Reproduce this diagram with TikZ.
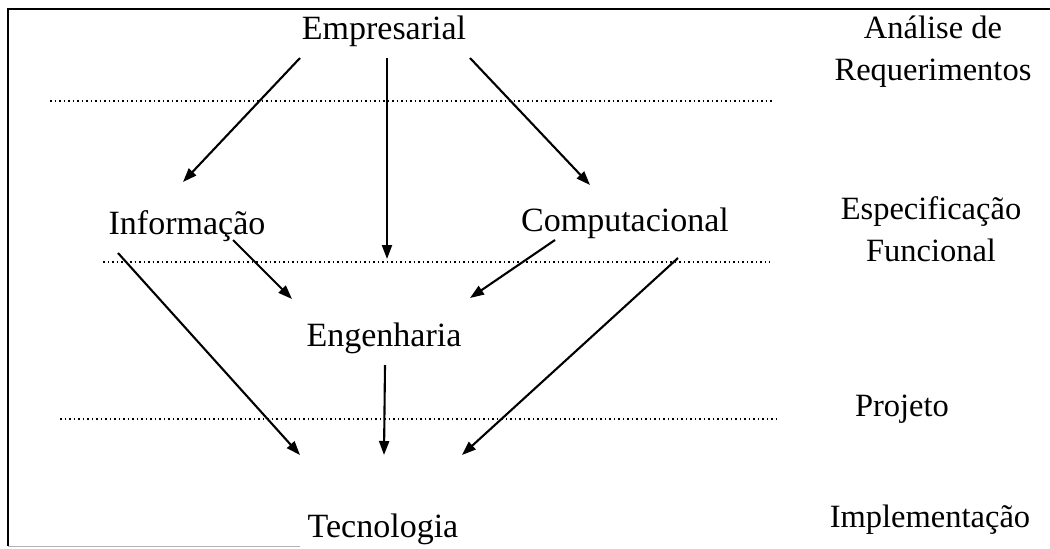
\documentclass[tikz,border=0pt]{standalone}
\usepackage{fontspec}
\setmainfont{Liberation Serif}
\usetikzlibrary{arrows.meta,calc}
\begin{document}
\begin{tikzpicture}[x=1pt,y=-1pt,
  lbl/.style={inner sep=0pt,font=\fontsize{34}{40}\selectfont},
  side/.style={inner sep=0pt,align=center,font=\fontsize{32.5}{42}\selectfont},
  arr/.style={line width=2.1pt,-{Triangle[length=14pt,width=10pt]}},
  sep/.style={line width=1.5pt,dash pattern=on 1.5pt off 3pt},
  frame/.style={line width=2.4pt}]
\useasboundingbox (0,0) rectangle (1050,549);
% frame
\coordinate (tl) at (8,9);
\coordinate (tr) at (1050,9);
\coordinate (bl) at (8,546);
\coordinate (bm) at (300,546);
\draw[frame] (tr) -- (tl) -- (bl);
\draw[gray!60,line width=1pt] (bl) -- (bm);
% nodes
\node[lbl] (emp) at (384,31) {Empresarial};
\node[lbl] (inf) at (187,226) {Informação};
\node[lbl] (comp) at (625,223) {Computacional};
\node[lbl] (eng) at (384,338) {Engenharia};
\node[lbl] (tec) at (383,529) {Tecnologia};
\node[side] (s1) at (933,52) {Análise de\\Requerimentos};
\node[side] (s2) at (931,229) {Especificação\\Funcional};
\node[side] (s3) at (902,409) {Projeto};
\node[side] (s4) at (930,520) {Implementação};
% separators
\coordinate (d1a) at (50,101);  \coordinate (d1b) at (773,101);
\coordinate (d2a) at (103,262); \coordinate (d2b) at (770,262);
\coordinate (d3a) at (60,419);  \coordinate (d3b) at (780,419);
\draw[sep] (d1a) -- (d1b);
\draw[sep] (d2a) -- (d2b);
\draw[sep] (d3a) -- (d3b);
% arrows
\draw[arr] ($(emp)+(-84,27)$) -- ($(inf)+(-4,-44)$);
\draw[arr] ($(emp)+(3,27)$) -- ($(eng)+(3,-79)$);
\draw[arr] ($(emp)+(86,27)$) -- ($(comp)+(-35,-38)$);
\draw[arr] ($(inf)+(46,14)$) -- ($(eng)+(-92,-39)$);
\draw[arr] ($(comp)+(-70,17)$) -- ($(eng)+(86,-40)$);
\draw[arr] ($(inf)+(-69,27)$) -- ($(tec)+(-83,-74)$);
\draw[arr] ($(eng)+(1,27)$) -- ($(tec)+(1,-74)$);
\draw[arr] ($(comp)+(53,35)$) -- ($(tec)+(79,-74)$);
\end{tikzpicture}
\end{document}
